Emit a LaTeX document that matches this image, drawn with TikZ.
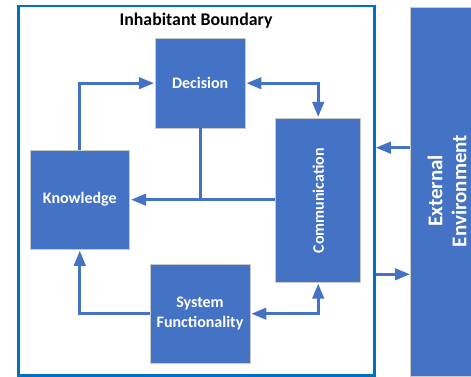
\documentclass[tikz,border=0pt]{standalone}
\usepackage{fontspec}
\setmainfont{Carlito}
\usetikzlibrary{arrows.meta}
\definecolor{boxblue}{HTML}{4472C4}
\definecolor{bndblue}{HTML}{0070C0}
\definecolor{boxedge}{HTML}{C9C9C9}
\tikzset{
  blk/.style={fill=boxblue, draw=boxedge, line width=0.8pt, inner sep=0pt, text=white,
     font=\fontsize{16}{20}\selectfont\bfseries, align=center},
  conn/.style={draw=boxblue, line width=2.7pt, -{Triangle[length=15pt,width=11.5pt]}, shorten >=1pt},
  conn2/.style={draw=boxblue, line width=2.7pt, {Triangle[length=15pt,width=11.5pt]}-{Triangle[length=15pt,width=11.5pt]}, shorten >=1pt, shorten <=1pt},
  plain/.style={draw=boxblue, line width=2.7pt},
}
\begin{document}
\begin{tikzpicture}[x=1pt,y=-1pt]
\useasboundingbox (0,0) rectangle (471,377);
% boundary
\draw[bndblue, line width=2.7pt] (18.5,6) rectangle (374.5,375.5);
\node[font=\fontsize{17.8}{20}\selectfont\bfseries] (title) at (196,21) {Inhabitant Boundary};
% boxes
\node[blk, minimum width=89.7pt, minimum height=89.7pt] (dec) at (200.2,83.2) {Decision};
\node[blk, minimum width=99.7pt, minimum height=99.3pt] (kno) at (79.8,199.7) {Knowledge};
\node[blk, minimum width=100pt, minimum height=99.3pt] (sys) at (200,313.7) {System\\Functionality};
\node[blk, minimum width=85pt, minimum height=164pt] (com) at (318.2,200.3) {};
\node[rotate=90, text=white, font=\fontsize{16}{20}\selectfont\bfseries] (comt) at (318.3,200.8) {Communication};
\begin{scope}
\clip (0,0) rectangle (471,377);
\node[blk, minimum width=74pt, minimum height=369pt, anchor=north west] (ext) at (410,6.7) {};
\end{scope}
\node[rotate=90, text=white, font=\fontsize{21}{24}\selectfont\bfseries, align=center] (extt) at (447,191) {External\\Environment};
% connectors
\draw[conn] (kno.north) -- (kno.north |- dec.west) -- (dec.west);
\draw[conn2] (dec.east) -- (com.north |- dec.east) -- (com.north);
\coordinate (j) at (dec.south |- kno.east);
\draw[plain] (dec.south) -- (j);
\draw[conn] (com.west |- kno.east) -- (kno.east);
\draw[conn] (sys.west) -- (kno.south |- sys.west) -- (kno.south);
\draw[conn2] (sys.east) -- (com.south |- sys.east) -- (com.south);
\coordinate (bR1) at (375.8,147.7);
\coordinate (bR2) at (375.8,274.3);
\draw[conn, shorten >=0pt] (ext.west |- bR1) -- (bR1);
\draw[conn, shorten >=0pt] (bR2) -- (ext.west |- bR2);
\end{tikzpicture}
\end{document}
